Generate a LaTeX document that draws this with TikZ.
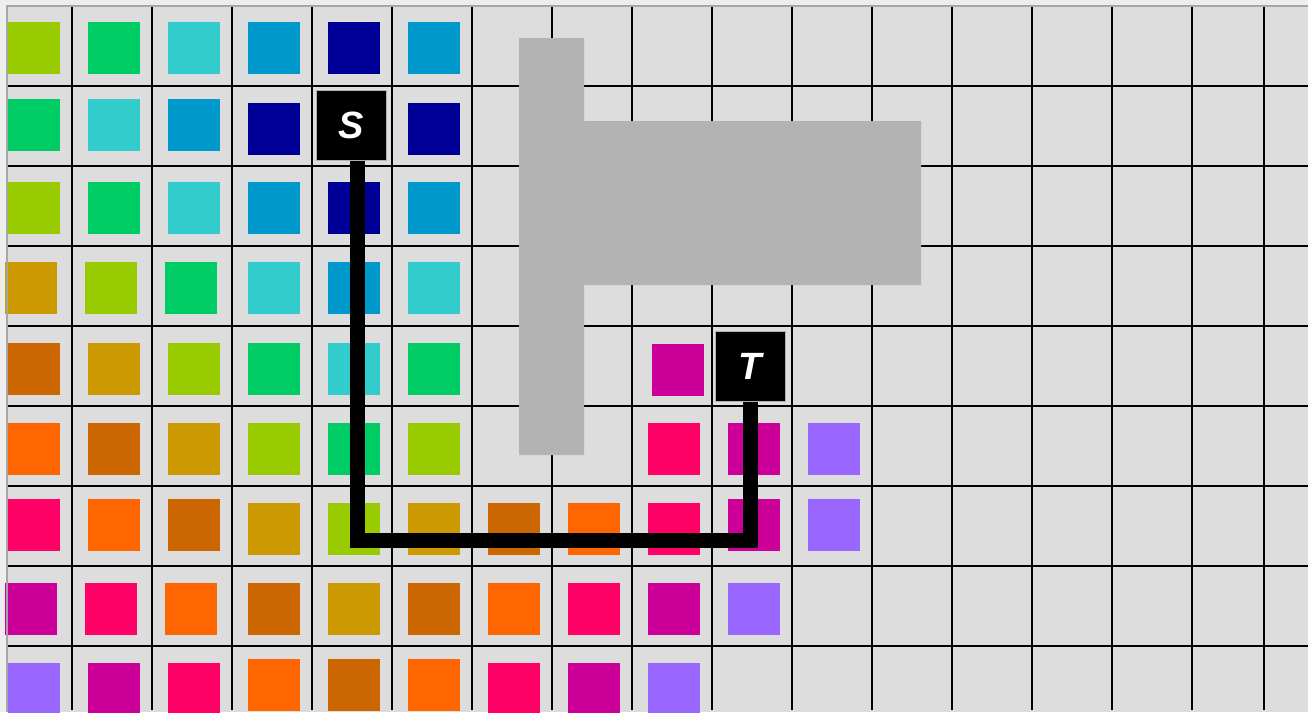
\documentclass[tikz,border=0pt]{standalone}
\usepackage{fontspec}
\setmainfont{Liberation Sans}
\usepackage{xcolor}
\usepackage{tikz}
\usetikzlibrary{positioning, calc}

\definecolor{ygreen}{HTML}{99CC00}
\definecolor{grn}{HTML}{00CC66}
\definecolor{turq}{HTML}{33CCCC}
\definecolor{sky}{HTML}{0099CC}
\definecolor{navy}{HTML}{000099}
\definecolor{gold}{HTML}{CC9900}
\definecolor{rust}{HTML}{CC6600}
\definecolor{orng}{HTML}{FF6600}
\definecolor{rose}{HTML}{FF0066}
\definecolor{mgnt}{HTML}{CC0099}
\definecolor{lilac}{HTML}{9966FF}
\definecolor{obst}{HTML}{B3B3B3}
\definecolor{cellbg}{HTML}{DDDDDD}
\definecolor{outside}{HTML}{EEEEEE}

% one coloured tile: column, row, colour, x shift, y shift
\newcommand{\tile}[5]{\fill[#3] ({8+80*#1+#4},{22+80*#2+#5}) rectangle ++(52,52);}

\begin{document}
\begin{tikzpicture}[x=1pt, y=-1pt,
        gridline/.style={black, line width=2pt},
        obstacle/.style={fill=obst},
        endpoint/.style={fill=black, draw=gray!60, line width=1pt, minimum size=70pt, inner sep=0pt, text=white, font=\fontsize{38}{38}\selectfont\bfseries\itshape},
        route/.style={black, line width=15pt, line join=miter}
    ]
        \useasboundingbox (0,0) rectangle (1308,712);
        \clip (0,0) rectangle (1308,712);

        % board
        \fill[outside] (0,0) rectangle (1308,712);
        \fill[cellbg] (7,6) rectangle (1308,712);

        \foreach \x in {72,152,...,1192,1264}
            \draw[gridline] (\x,6) -- (\x,710);
        \foreach \y in {86,166,...,646}
            \draw[gridline] (7,\y) -- (1308,\y);

        % tiles, row by row
        \foreach \clr [count=\c from 0] in {ygreen,grn,turq,sky,navy,sky}
            {\tile{\c}{0}{\clr}{0}{0}}
        \foreach \c/\clr/\dy in {0/grn/-3,1/turq/-3,2/sky/-3,3/navy/1,5/navy/1}
            {\tile{\c}{1}{\clr}{0}{\dy}}
        \foreach \clr [count=\c from 0] in {ygreen,grn,turq,sky,navy,sky}
            {\tile{\c}{2}{\clr}{0}{0}}
        \foreach \c/\clr/\dx in {0/gold/-3,1/ygreen/-3,2/grn/-3,3/turq/0,4/sky/0,5/turq/0}
            {\tile{\c}{3}{\clr}{\dx}{0}}
        \foreach \clr [count=\c from 0] in {rust,gold,ygreen,grn,turq,grn}
            {\tile{\c}{4}{\clr}{0}{1}}
        \tile{8}{4}{mgnt}{4}{2}
        \foreach \c/\clr in {0/orng,1/rust,2/gold,3/ygreen,4/grn,5/ygreen,8/rose,9/mgnt,10/lilac}
            {\tile{\c}{5}{\clr}{0}{1}}
        \foreach \c/\clr/\dy in {0/rose/-3,1/orng/-3,2/rust/-3,3/gold/1,4/ygreen/1,5/gold/1,6/rust/1,7/orng/1,8/rose/1,9/mgnt/-3,10/lilac/-3}
            {\tile{\c}{6}{\clr}{0}{\dy}}
        \foreach \c/\clr/\dx in {0/mgnt/-3,1/rose/-3,2/orng/-3,3/rust/0,4/gold/0,5/rust/0,6/orng/0,7/rose/0,8/mgnt/0,9/lilac/0}
            {\tile{\c}{7}{\clr}{\dx}{1}}
        \foreach \c/\clr/\dy in {0/lilac/1,1/mgnt/1,2/rose/1,3/orng/-3,4/rust/-3,5/orng/-3,6/rose/1,7/mgnt/1,8/lilac/1}
            {\tile{\c}{8}{\clr}{0}{\dy}}

        % wall
        \fill[obstacle] (519,38) -- (584,38) -- (584,121) -- (921,121) -- (921,285)
            -- (584,285) -- (584,455) -- (519,455) -- cycle;

        \draw[gray!70, line width=2pt] (7,712) -- (7,6) -- (1308,6);

        % start and target
        \node[endpoint] (S) at (351,125) {S};
        \node[endpoint] (T) at (750,366) {T};

        \draw[route] ([xshift=6pt]S.south) -- ++(0,380) -| (T.south);
    \end{tikzpicture}
\end{document}
